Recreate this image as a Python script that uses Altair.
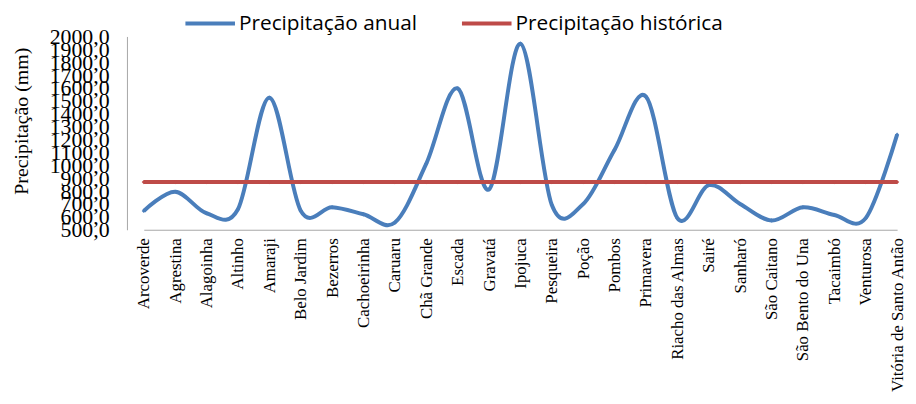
import altair as alt
import pandas as pd

municipios = ["Arcoverde", "Agrestina", "Alagoinha", "Altinho", "Amaraji", "Belo Jardim",
              "Bezerros", "Cachoeirinha", "Caruaru", "Chã Grande", "Escada", "Gravatá",
              "Ipojuca", "Pesqueira", "Poção", "Pombos", "Primavera", "Riacho das Almas",
              "Sairé", "Sanharó", "São Caitano", "São Bento do Una", "Tacaimbó",
              "Venturosa", "Vitória de Santo Antão"]
anual = [646, 795, 628, 659, 1525, 648, 674, 620, 556, 1013, 1597, 813, 1944, 692,
         700, 1121, 1533, 590, 846, 700, 572, 674, 615, 590, 1238]
historica = [870] * len(municipios)
series = ["Precipitação anual", "Precipitação histórica"]
y_ticks = list(range(500, 2001, 100))

rows = []
for i, m in enumerate(municipios):
    rows.append({"mun": m, "serie": series[0], "valor": anual[i]})
    rows.append({"mun": m, "serie": series[1], "valor": historica[i]})
df = pd.DataFrame(rows)

x_enc = alt.X("mun:N", sort=municipios,
              scale=alt.Scale(type="point", range=[17, 777], padding=0),
              axis=alt.Axis(title=None, labelAngle=270, labelAlign="right",
                            labelBaseline="middle", labelFont="Liberation Serif",
                            labelFontSize=17, labelColor="#000", labelPadding=8,
                            ticks=False, domainColor="#a6a6a6", labelOverlap=False,
                            labelLimit=400))
y_enc = alt.Y("valor:Q", scale=alt.Scale(domain=[500, 2000], nice=False, zero=False),
              axis=alt.Axis(title="Precipitação (mm)", values=y_ticks,
                            labelExpr="replace(format(datum.value, '.1f'), '.', ',')",
                            labelFont="Liberation Serif", labelFontSize=22,
                            labelColor="#000", labelOverlap=False, labelPadding=18,
                            labelSeparation=0, labelBound=False,
                            ticks=False, grid=False, domainColor="#a6a6a6",
                            titleFont="Times New Roman", titleFontSize=20,
                            titleFontWeight="normal", titleColor="#000",
                            titleX=-106, titleY=85, titleAngle=270,
                            titleAlign="center", titleBaseline="middle"))
color_enc = alt.Color("serie:N",
                      scale=alt.Scale(domain=series, range=["#4A7EBB", "#BE4B48"]),
                      legend=alt.Legend(title=None, orient="none", legendX=57, legendY=-40,
                                        direction="horizontal", symbolType="stroke",
                                        symbolSize=2500, symbolStrokeWidth=4,
                                        labelFont="Open Sans", labelFontSize=21,
                                        labelColor="#000", labelOffset=2,
                                        columnPadding=37, labelLimit=400))

base = alt.Chart(df).encode(x=x_enc, y=y_enc, color=color_enc)
lines = base.mark_line(interpolate="cardinal", strokeWidth=4, clip=False).encode(
    detail="serie:N")
points = base.mark_point(filled=True, size=18, shape="diamond", opacity=1, clip=False)

chart = alt.layer(lines, points).properties(
    width=780, height=195,
    autosize=alt.AutoSizeParams(type="none"),
    padding={"left": 120, "top": 27, "right": 8, "bottom": 165},
    background="white"
).configure_view(stroke=None).configure_axis(
    labelOverlap=False, titleFont="Times New Roman", titleFontWeight="normal")

chart.save("out.html", embed_options={"renderer": "svg", "actions": False})
